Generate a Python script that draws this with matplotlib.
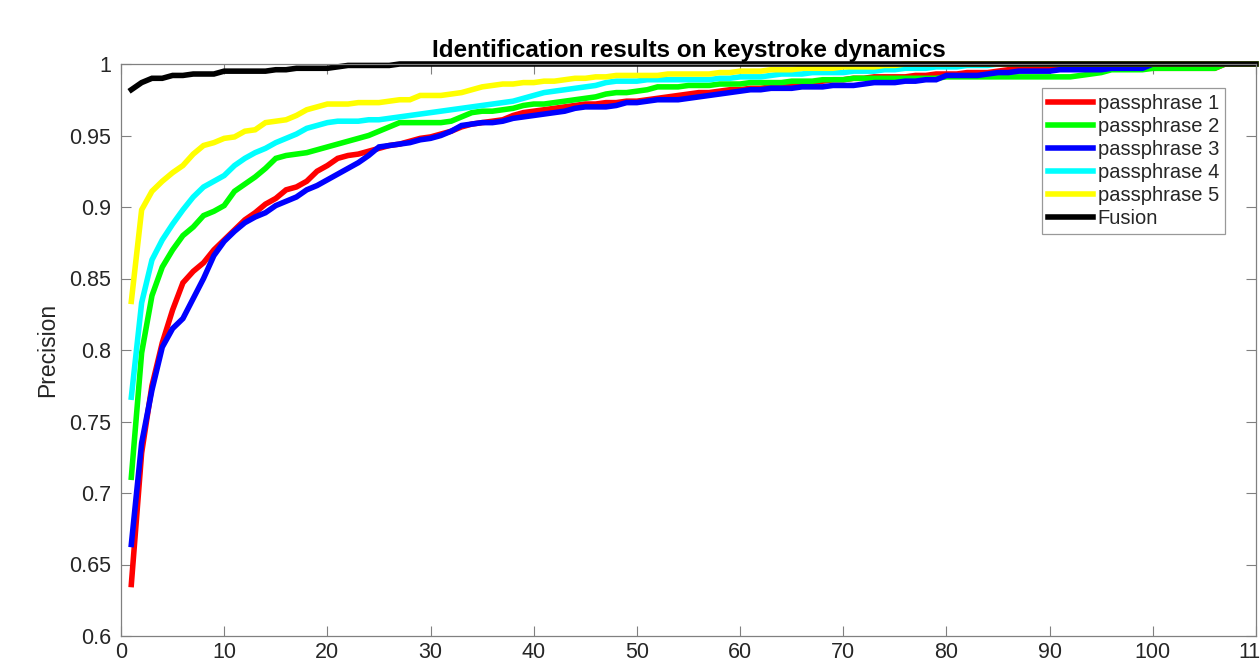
import numpy as np
import matplotlib
matplotlib.use('Agg')
import matplotlib.pyplot as plt

plt.rcParams['font.family'] = ['Liberation Sans', 'DejaVu Sans']

rank = np.arange(1, 111)

passphrase1 = [0.636, 0.728, 0.775, 0.805, 0.828, 0.847, 0.855, 0.861, 0.870, 0.877,
               0.884, 0.891, 0.896, 0.902, 0.906, 0.912, 0.914, 0.918, 0.925, 0.929,
               0.934, 0.936, 0.937, 0.939, 0.941, 0.943, 0.944, 0.946, 0.948, 0.949,
               0.951, 0.953, 0.956, 0.958, 0.959, 0.960, 0.961, 0.964, 0.966, 0.967,
               0.968, 0.969, 0.970, 0.971, 0.972, 0.972, 0.973, 0.973, 0.974, 0.974,
               0.975, 0.976, 0.977, 0.978, 0.979, 0.980, 0.980, 0.981, 0.982, 0.982,
               0.983, 0.983, 0.984, 0.985, 0.986, 0.986, 0.987, 0.988, 0.989, 0.989,
               0.990, 0.990, 0.991, 0.991, 0.991, 0.991, 0.992, 0.992, 0.993, 0.993,
               0.993, 0.994, 0.994, 0.994, 0.995, 0.996, 0.997, 0.997, 0.997, 0.997,
               0.997, 0.997, 0.997, 0.997, 0.997, 0.997, 0.997, 0.997, 0.997, 0.997,
               0.997, 0.997, 0.997, 0.997, 0.997, 0.997, 1.000, 1.000, 1.000, 1.000]

passphrase2 = [0.711, 0.798, 0.838, 0.858, 0.870, 0.880, 0.886, 0.894, 0.897, 0.901,
               0.911, 0.916, 0.921, 0.927, 0.934, 0.936, 0.937, 0.938, 0.940, 0.942,
               0.944, 0.946, 0.948, 0.950, 0.953, 0.956, 0.959, 0.959, 0.959, 0.959,
               0.959, 0.960, 0.963, 0.966, 0.967, 0.967, 0.968, 0.969, 0.971, 0.972,
               0.972, 0.973, 0.974, 0.975, 0.976, 0.977, 0.979, 0.980, 0.980, 0.981,
               0.982, 0.984, 0.984, 0.984, 0.985, 0.985, 0.985, 0.986, 0.986, 0.986,
               0.987, 0.987, 0.987, 0.987, 0.988, 0.988, 0.988, 0.989, 0.989, 0.989,
               0.990, 0.990, 0.990, 0.990, 0.990, 0.990, 0.990, 0.990, 0.990, 0.991,
               0.991, 0.991, 0.991, 0.991, 0.991, 0.991, 0.991, 0.991, 0.991, 0.991,
               0.991, 0.991, 0.992, 0.993, 0.994, 0.996, 0.996, 0.996, 0.996, 0.997,
               0.997, 0.997, 0.997, 0.997, 0.997, 0.997, 1.000, 1.000, 1.000, 1.000]

passphrase3 = [0.664, 0.735, 0.772, 0.802, 0.815, 0.822, 0.836, 0.850, 0.866, 0.876,
               0.883, 0.889, 0.893, 0.896, 0.901, 0.904, 0.907, 0.912, 0.915, 0.919,
               0.923, 0.927, 0.931, 0.936, 0.942, 0.943, 0.944, 0.945, 0.947, 0.948,
               0.950, 0.953, 0.957, 0.958, 0.959, 0.959, 0.960, 0.962, 0.963, 0.964,
               0.965, 0.966, 0.967, 0.969, 0.970, 0.970, 0.970, 0.971, 0.973, 0.973,
               0.974, 0.975, 0.975, 0.975, 0.976, 0.977, 0.978, 0.979, 0.980, 0.981,
               0.982, 0.982, 0.983, 0.983, 0.983, 0.984, 0.984, 0.984, 0.985, 0.985,
               0.985, 0.986, 0.987, 0.987, 0.987, 0.988, 0.988, 0.989, 0.989, 0.992,
               0.992, 0.992, 0.992, 0.993, 0.994, 0.994, 0.995, 0.995, 0.995, 0.995,
               0.996, 0.996, 0.996, 0.996, 0.996, 0.997, 0.997, 0.997, 0.997, 1.000,
               1.000, 1.000, 1.000, 1.000, 1.000, 1.000, 1.000, 1.000, 1.000, 1.000]

passphrase4 = [0.767, 0.833, 0.863, 0.877, 0.888, 0.898, 0.907, 0.914, 0.918, 0.922,
               0.929, 0.934, 0.938, 0.941, 0.945, 0.948, 0.951, 0.955, 0.957, 0.959,
               0.960, 0.960, 0.960, 0.961, 0.961, 0.962, 0.963, 0.964, 0.965, 0.966,
               0.967, 0.968, 0.969, 0.970, 0.971, 0.972, 0.973, 0.974, 0.976, 0.978,
               0.980, 0.981, 0.982, 0.983, 0.984, 0.985, 0.987, 0.988, 0.988, 0.988,
               0.989, 0.989, 0.989, 0.989, 0.989, 0.989, 0.989, 0.990, 0.990, 0.991,
               0.991, 0.991, 0.992, 0.993, 0.993, 0.993, 0.994, 0.994, 0.994, 0.994,
               0.995, 0.995, 0.995, 0.996, 0.996, 0.997, 0.997, 0.997, 0.998, 0.998,
               0.998, 0.999, 0.999, 0.999, 1.000, 1.000, 1.000, 1.000, 1.000, 1.000,
               1.000, 1.000, 1.000, 1.000, 1.000, 1.000, 1.000, 1.000, 1.000, 1.000,
               1.000, 1.000, 1.000, 1.000, 1.000, 1.000, 1.000, 1.000, 1.000, 1.000]

passphrase5 = [0.834, 0.898, 0.911, 0.918, 0.924, 0.929, 0.937, 0.943, 0.945, 0.948,
               0.949, 0.953, 0.954, 0.959, 0.960, 0.961, 0.964, 0.968, 0.970, 0.972,
               0.972, 0.972, 0.973, 0.973, 0.973, 0.974, 0.975, 0.975, 0.978, 0.978,
               0.978, 0.979, 0.980, 0.982, 0.984, 0.985, 0.986, 0.986, 0.987, 0.987,
               0.988, 0.988, 0.989, 0.990, 0.990, 0.991, 0.991, 0.992, 0.992, 0.992,
               0.992, 0.992, 0.993, 0.993, 0.993, 0.993, 0.993, 0.994, 0.994, 0.995,
               0.995, 0.995, 0.996, 0.996, 0.996, 0.997, 0.997, 0.997, 0.997, 0.998,
               0.998, 0.998, 0.998, 0.999, 0.999, 1.000, 1.000, 1.000, 1.000, 1.000,
               1.000, 1.000, 1.000, 1.000, 1.000, 1.000, 1.000, 1.000, 1.000, 1.000,
               1.000, 1.000, 1.000, 1.000, 1.000, 1.000, 1.000, 1.000, 1.000, 1.000,
               1.000, 1.000, 1.000, 1.000, 1.000, 1.000, 1.000, 1.000, 1.000, 1.000]

fusion = [0.982, 0.987, 0.990, 0.990, 0.992, 0.992, 0.993, 0.993, 0.993, 0.995,
          0.995, 0.995, 0.995, 0.995, 0.996, 0.996, 0.997, 0.997, 0.997, 0.997,
          0.998, 0.999, 0.999, 0.999, 0.999, 0.999, 1.000, 1.000, 1.000, 1.000,
          1.000, 1.000, 1.000, 1.000, 1.000, 1.000, 1.000, 1.000, 1.000, 1.000,
          1.000, 1.000, 1.000, 1.000, 1.000, 1.000, 1.000, 1.000, 1.000, 1.000,
          1.000, 1.000, 1.000, 1.000, 1.000, 1.000, 1.000, 1.000, 1.000, 1.000,
          1.000, 1.000, 1.000, 1.000, 1.000, 1.000, 1.000, 1.000, 1.000, 1.000,
          1.000, 1.000, 1.000, 1.000, 1.000, 1.000, 1.000, 1.000, 1.000, 1.000,
          1.000, 1.000, 1.000, 1.000, 1.000, 1.000, 1.000, 1.000, 1.000, 1.000,
          1.000, 1.000, 1.000, 1.000, 1.000, 1.000, 1.000, 1.000, 1.000, 1.000,
          1.000, 1.000, 1.000, 1.000, 1.000, 1.000, 1.000, 1.000, 1.000, 1.000]

series = [passphrase1, passphrase2, passphrase3, passphrase4, passphrase5, fusion]
labels = ['passphrase 1', 'passphrase 2', 'passphrase 3', 'passphrase 4', 'passphrase 5', 'Fusion']
colors = ['#ff0000', '#00ff00', '#0000ff', '#00ffff', '#ffff00', '#000000']

fig = plt.figure(figsize=(12.6, 6.72), dpi=100)
ax = fig.add_axes([121/1260, 36/672, 1135/1260, 572/672])

for y, lab, c in zip(series, labels, colors):
    ax.plot(rank, y, color=c, lw=4, label=lab, clip_on=False, solid_joinstyle='miter')

ax.set_xlim(0, 110)
ax.set_ylim(0.6, 1)
ax.set_xticks(np.arange(0, 111, 10))
ax.set_yticks([0.6, 0.65, 0.7, 0.75, 0.8, 0.85, 0.9, 0.95, 1])
ax.set_yticklabels(['0.6', '0.65', '0.7', '0.75', '0.8', '0.85', '0.9', '0.95', '1'])

for s in ax.spines.values():
    s.set_color('#808080')
    s.set_linewidth(0.9)
ax.tick_params(direction='in', length=7, width=0.8, color='#808080',
               top=True, right=True, labelsize=15.5, labelcolor='#262626')
ax.tick_params(axis='x', pad=4)
ax.tick_params(axis='y', pad=7)

ax.set_ylabel('Precision', fontsize=16.5, color='#262626', labelpad=7)
ax.set_title('Identification results on keystroke dynamics', fontsize=17.5,
             fontweight='bold', color='#000000', pad=5)

leg = ax.legend(loc='upper right', bbox_to_anchor=(0.9727, 0.958), fontsize=14.5,
                frameon=True, fancybox=False, handlelength=2.2, handletextpad=0.25,
                labelspacing=0.2, borderpad=0.3, borderaxespad=0)
leg.get_frame().set_edgecolor('#808080')
leg.get_frame().set_linewidth(0.9)
for t in leg.get_texts():
    t.set_color('#262626')

plt.savefig('out.png', dpi=100)
